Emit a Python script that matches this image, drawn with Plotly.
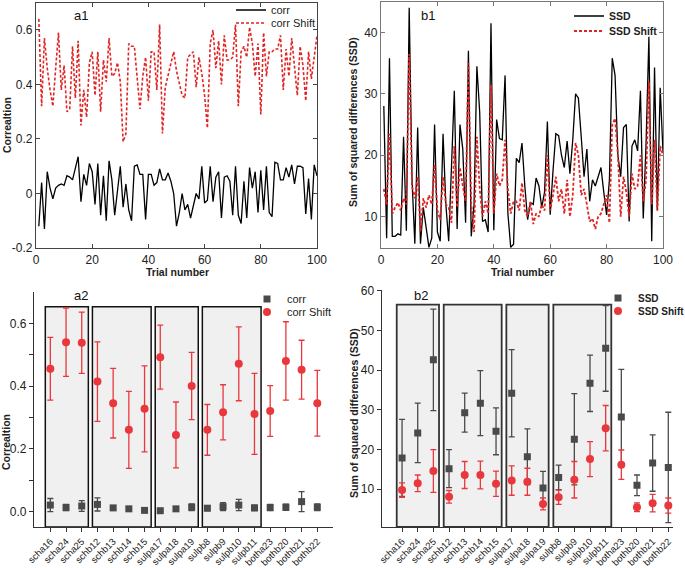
import plotly.graph_objects as go

# ---------------- data ----------------
trials = list(range(1, 101))

corr = [-0.12, 0.04, -0.13, 0.08, 0.02, -0.02, 0.02, 0.03, 0.035, 0.03,
        0.065, 0.06, 0.05, 0.09, 0.135, -0.03, 0.07, 0.03, 0.11, 0.08,
        -0.04, 0.11, -0.08, 0.065, -0.1, 0.12, 0.05, -0.08, 0.02, 0.1,
        -0.05, 0.035, -0.06, -0.1, 0.1, 0.105, 0.07, 0.07, -0.095, 0.07,
        0.07, 0.03, 0.04, 0.09, 0.05, 0.05, 0.075, 0.045, 0.0, -0.12,
        -0.07, 0.0, -0.06, -0.04, -0.09, -0.05, 0.0, -0.02, 0.1, -0.035,
        -0.025, 0.1, -0.03, 0.06, 0.08, -0.09, 0.06, 0.065, 0.045, -0.08,
        0.1, -0.08, -0.11, 0.045, -0.09, 0.095, 0.02, 0.08, -0.07, 0.085,
        -0.06, 0.1, -0.07, -0.085, 0.115, 0.11, 0.05, 0.05, 0.095, 0.06,
        0.105, 0.035, 0.1, 0.1, 0.095, -0.075, 0.055, -0.095, 0.105, 0.065]

corr_shift = [0.64, 0.32, 0.57, 0.46, 0.38, 0.32, 0.46, 0.59, 0.38, 0.47,
              0.30, 0.31, 0.54, 0.35, 0.56, 0.25, 0.38, 0.28, 0.48, 0.52,
              0.36, 0.52, 0.30, 0.49, 0.41, 0.57, 0.43, 0.44, 0.48, 0.41,
              0.19, 0.22, 0.55, 0.54, 0.54, 0.42, 0.31, 0.43, 0.50, 0.34,
              0.52, 0.52, 0.38, 0.62, 0.22, 0.39, 0.43, 0.47, 0.52, 0.45,
              0.40, 0.36, 0.35, 0.50, 0.51, 0.52, 0.39, 0.50, 0.44, 0.36,
              0.24, 0.55, 0.60, 0.46, 0.56, 0.40, 0.58, 0.49, 0.49, 0.50,
              0.62, 0.32, 0.52, 0.54, 0.50, 0.61, 0.55, 0.43, 0.55, 0.29,
              0.59, 0.43, 0.52, 0.52, 0.53, 0.53, 0.58, 0.38, 0.53, 0.43,
              0.57, 0.46, 0.36, 0.54, 0.47, 0.34, 0.52, 0.42, 0.50, 0.58]

ssd = [28.0, 6.5, 35.8, 6.8, 6.8, 7.2, 7.0, 23.0, 7.7, 44.0,
       16.0, 5.6, 24.5, 5.6, 11.5, 8.0, 5.0, 6.5, 25.0, 7.5,
       6.0, 23.5, 12.0, 6.0, 17.0, 30.5, 8.0, 25.0, 21.0, 9.0,
       37.0, 6.8, 12.0, 34.5, 27.0, 9.2, 9.5, 7.5, 41.5, 7.8,
       25.8, 22.7, 22.5, 33.0, 10.5, 5.0, 5.5, 19.5, 18.8, 22.0,
       15.0, 9.5, 12.3, 12.0, 16.3, 15.0, 11.5, 14.0, 25.5, 10.3,
       17.5, 23.5, 23.2, 20.0, 18.0, 22.3, 17.0, 22.5, 30.0, 29.3,
       23.0, 16.5, 21.0, 12.5, 16.0, 15.0, 16.5, 18.0, 14.0, 10.3,
       16.0, 35.8, 33.0, 20.0, 16.5, 24.5, 25.0, 9.2, 21.5, 22.5,
       20.7, 30.5, 9.7, 22.0, 39.3, 6.0, 34.3, 11.0, 31.0, 20.5]

ssd_shift = [14.5, 12.0, 23.5, 10.5, 11.5, 12.3, 11.0, 13.0, 12.0, 36.5,
             15.0, 13.0, 16.5, 7.5, 13.0, 11.5, 13.5, 12.0, 18.5, 11.0,
             9.5, 16.5, 12.0, 11.5, 9.0, 21.5, 11.5, 18.0, 15.0, 12.5,
             35.0, 12.0, 7.5, 23.0, 14.5, 10.0, 12.5, 10.5, 31.5, 10.5,
             17.0, 15.0, 16.0, 22.5, 14.5, 10.5, 12.5, 12.5, 11.0, 15.5,
             11.0, 10.0, 12.5, 8.8, 10.5, 10.0, 12.0, 11.0, 20.0, 11.0,
             13.5, 16.5, 12.5, 14.5, 10.5, 16.0, 10.0, 13.5, 22.0, 20.0,
             13.5, 14.5, 12.0, 9.2, 9.7, 8.0, 10.0, 10.5, 12.0, 13.5,
             9.0, 25.0, 26.0, 20.0, 10.0, 16.5, 14.0, 10.0, 17.0, 14.5,
             15.0, 20.0, 12.5, 16.0, 32.0, 12.0, 22.5, 11.0, 21.5, 20.0]

categories = ["scha16", "scha24", "scha25", "schb12", "schb13", "schb14", "schb15",
              "sulpa17", "sulpa18", "sulpa19", "sulpb8", "sulpb9", "sulpb10", "sulpb11",
              "botha23", "bothb20", "bothb21", "bothb22"]

# a2: mean and error (half-width)
corr_mean = [0.020, 0.012, 0.017, 0.022, 0.011, 0.008, 0.003, 0.002, 0.008, 0.013,
             0.010, 0.015, 0.020, 0.011, 0.012, 0.013, 0.031, 0.013]
corr_err = [0.021, 0.010, 0.017, 0.021, 0.007, 0.004, 0.002, 0.002, 0.004, 0.011,
            0.008, 0.013, 0.018, 0.009, 0.010, 0.010, 0.032, 0.011]
corr_shift_mean = [0.455, 0.540, 0.538, 0.414, 0.345, 0.260, 0.327, 0.492, 0.244, 0.400,
                   0.260, 0.316, 0.471, 0.311, 0.320, 0.480, 0.452, 0.345]
corr_shift_err = [0.100, 0.109, 0.098, 0.127, 0.111, 0.123, 0.137, 0.102, 0.105, 0.107,
                  0.081, 0.088, 0.118, 0.129, 0.081, 0.125, 0.094, 0.105]

# b2: mean and error (half-width)
ssd_mean = [17.9, 24.2, 42.6, 15.2, 29.3, 31.7, 24.6, 34.2, 18.2, 10.3,
            13.0, 22.6, 36.7, 45.5, 28.2, 11.0, 16.6, 15.5]
ssd_err = [9.7, 7.5, 12.8, 4.8, 4.9, 8.2, 5.9, 11.0, 7.0, 4.2,
           3.1, 11.5, 7.1, 10.8, 12.0, 2.6, 7.1, 13.9]
ssd_shift_mean = [9.8, 11.5, 14.6, 8.1, 13.6, 13.6, 11.4, 12.2, 11.9, 6.3,
                  8.0, 12.4, 17.6, 25.4, 16.2, 5.5, 6.5, 5.9]
ssd_shift_err = [1.8, 2.1, 5.4, 1.6, 3.4, 3.5, 3.2, 3.7, 3.4, 1.5,
                 1.8, 4.6, 4.4, 5.7, 3.7, 1.1, 2.2, 1.9]

# groups of categories shaded with boxes (first index, last index)
groups = [(0, 2), (3, 6), (7, 9), (10, 13)]

# ---------------- style ----------------
W, H = 685, 568
FONT = "Arial, Liberation Sans, Helvetica, sans-serif"
RED = "#e8383d"
LRED = "#e02424"
GREY = "#4a4a4a"


def px_x(p):
    return p / W


def px_y(p):
    return 1 - p / H


xs = list(range(len(categories)))

fig = go.Figure()

# a1
fig.add_trace(go.Scatter(x=trials, y=corr, mode="lines", name="corr",
                         line=dict(color="black", width=1.3),
                         xaxis="x", yaxis="y", legend="legend"))
fig.add_trace(go.Scatter(x=trials, y=corr_shift, mode="lines", name="corr Shift",
                         line=dict(color=LRED, width=1.6, dash="3px,2px"),
                         xaxis="x", yaxis="y", legend="legend2"))
# b1
fig.add_trace(go.Scatter(x=trials, y=ssd, mode="lines", name="<b>SSD</b>",
                         line=dict(color="black", width=1.3),
                         xaxis="x2", yaxis="y2", legend="legend3"))
fig.add_trace(go.Scatter(x=trials, y=ssd_shift, mode="lines", name="<b>SSD Shift</b>",
                         line=dict(color=LRED, width=1.8, dash="3px,2px"),
                         xaxis="x2", yaxis="y2", legend="legend4"))
# a2
fig.add_trace(go.Scatter(x=xs, y=corr_mean, mode="markers", name="corr",
                         marker=dict(symbol="square", size=7, color=GREY),
                         error_y=dict(type="data", array=corr_err, color=GREY,
                                      thickness=1.3, width=3),
                         xaxis="x3", yaxis="y3", legend="legend5"))
fig.add_trace(go.Scatter(x=xs, y=corr_shift_mean, mode="markers", name="corr Shift",
                         marker=dict(symbol="circle", size=8, color=RED),
                         error_y=dict(type="data", array=corr_shift_err, color=RED,
                                      thickness=1.3, width=3),
                         xaxis="x3", yaxis="y3", legend="legend6"))
# b2
fig.add_trace(go.Scatter(x=xs, y=ssd_mean, mode="markers", name="<b>SSD</b>",
                         marker=dict(symbol="square", size=7, color=GREY),
                         error_y=dict(type="data", array=ssd_err, color=GREY,
                                      thickness=1.3, width=3),
                         xaxis="x4", yaxis="y4", legend="legend7"))
fig.add_trace(go.Scatter(x=xs, y=ssd_shift_mean, mode="markers", name="<b>SSD Shift</b>",
                         marker=dict(symbol="circle", size=8, color=RED),
                         error_y=dict(type="data", array=ssd_shift_err, color=RED,
                                      thickness=1.3, width=3),
                         xaxis="x4", yaxis="y4", legend="legend8"))

tickfont = dict(family=FONT, size=12, color="#222")
catfont = dict(family=FONT, size=9.5, color="#222")

top_frame = dict(showline=True, mirror="ticks", ticks="inside", ticklen=4,
                 linewidth=1.2, showgrid=False, zeroline=False, tickfont=tickfont,
                 automargin=False)
bot_axis = dict(showline=True, mirror=False, ticks="outside", ticklen=4,
                linewidth=1.3, linecolor="#333", tickcolor="#333",
                showgrid=False, zeroline=False, automargin=False)

layout = dict(
    width=W, height=H, margin=dict(l=0, r=0, t=0, b=0, autoexpand=False),
    paper_bgcolor="white", plot_bgcolor="rgba(0,0,0,0)", showlegend=True,
    font=dict(family=FONT, size=12, color="#222"),
    xaxis=dict(domain=[px_x(36), px_x(317)], range=[0, 100], anchor="y",
               tickvals=[0, 20, 40, 60, 80, 100], linecolor="#444", tickcolor="#444",
               **top_frame),
    yaxis=dict(domain=[px_y(248), px_y(2.7)], range=[-0.2, 0.7], anchor="x",
               tickvals=[-0.2, 0, 0.2, 0.4, 0.6], ticktext=["-0.2", "0", "0.2", "0.4", "0.6"],
               linecolor="#444", tickcolor="#444", **top_frame),
    xaxis2=dict(domain=[px_x(381), px_x(663)], range=[0, 100], anchor="y2",
                tickvals=[0, 20, 40, 60, 80, 100], linecolor="#777", tickcolor="#777",
                **top_frame),
    yaxis2=dict(domain=[px_y(248.3), px_y(1.7)], range=[4.85, 45], anchor="x2",
                tickvals=[10, 20, 30, 40], linecolor="#777", tickcolor="#777", **top_frame),
    xaxis3=dict(domain=[px_x(34), px_x(333)], range=[-1.04, 18.0], anchor="y3",
                tickvals=xs, ticktext=categories, tickangle=-45, tickfont=catfont, **bot_axis),
    yaxis3=dict(domain=[px_y(527), px_y(292)], range=[-0.05, 0.7], anchor="x3",
                tickvals=[0, 0.1, 0.2, 0.3, 0.4, 0.5, 0.6],
                ticktext=["0.0", "", "0.2", "", "0.4", "", "0.6"], tickfont=tickfont, **bot_axis),
    xaxis4=dict(domain=[px_x(381.7), px_x(673)], range=[-1.3, 17.3], anchor="y4",
                tickvals=xs, ticktext=categories, tickangle=-45, tickfont=catfont, **bot_axis),
    yaxis4=dict(domain=[px_y(527), px_y(290)], range=[0.5, 60.2], anchor="x4",
                tickvals=[10, 20, 30, 40, 50, 60], tickfont=tickfont, **bot_axis),
)

# (legend name, left px, centre px, font size)
leg_pos = [("legend", 231, 10, 11), ("legend2", 231, 23, 11),
           ("legend3", 569, 16, 10.5), ("legend4", 569, 31, 10.5),
           ("legend5", 247, 299, 11), ("legend6", 247, 312, 11),
           ("legend7", 598, 298, 10), ("legend8", 598, 311, 10)]
for name, lx, cy, fs in leg_pos:
    layout[name] = dict(x=px_x(lx), y=px_y(cy), bgcolor="rgba(0,0,0,0)",
                        xanchor="left", yanchor="middle", tracegroupgap=0, borderwidth=0,
                        font=dict(family=FONT, size=fs, color="#222"))

fig.update_layout(**layout)

# shaded group boxes
for (g0, g1) in groups:
    fig.add_shape(type="rect", xref="x3", yref="y3", x0=g0 - 0.32, x1=g1 + 0.42,
                  y0=-0.05, y1=0.653, fillcolor="#f0f0f0",
                  line=dict(color="#111", width=1.5), layer="below")
    fig.add_shape(type="rect", xref="x4", yref="y4", x0=g0 - 0.34, x1=g1 + 0.36,
                  y0=0.5, y1=56.5, fillcolor="#f0f0f0",
                  line=dict(color="#333", width=1.8), layer="below")

ann = []


def add_text(txt, x, y, font, angle=0):
    ann.append(dict(text=txt, x=px_x(x), y=px_y(y), xref="paper", yref="paper",
                    xanchor="center", yanchor="middle", showarrow=False,
                    textangle=angle, font=font))


TITLE = dict(family=FONT, size=13, color="#111")
for txt, x, y in [("a1", 81, 15), ("b1", 428, 15), ("a2", 81, 295), ("b2", 421, 295)]:
    add_text(txt, x, y, TITLE)

LAB = dict(family=FONT, size=10.5, color="#222")
add_text("<b>Trial number</b>", 177, 272, LAB)
add_text("<b>Trial number</b>", 522, 272, LAB)
add_text("<b>Correaltion</b>", 7, 125, LAB, -90)
add_text("<b>Sum of squared differences (SSD)</b>", 353, 122, LAB, -90)
add_text("<b>Correaltion</b>", 6, 442, LAB, -90)
add_text("<b>Sum of squared differences (SSD)</b>", 354, 413, LAB, -90)
fig.update_layout(annotations=ann)

fig.write_html("out.html", config={"displayModeBar": False},
               post_script="document.body.style.margin='0';document.body.style.overflow='hidden';")
